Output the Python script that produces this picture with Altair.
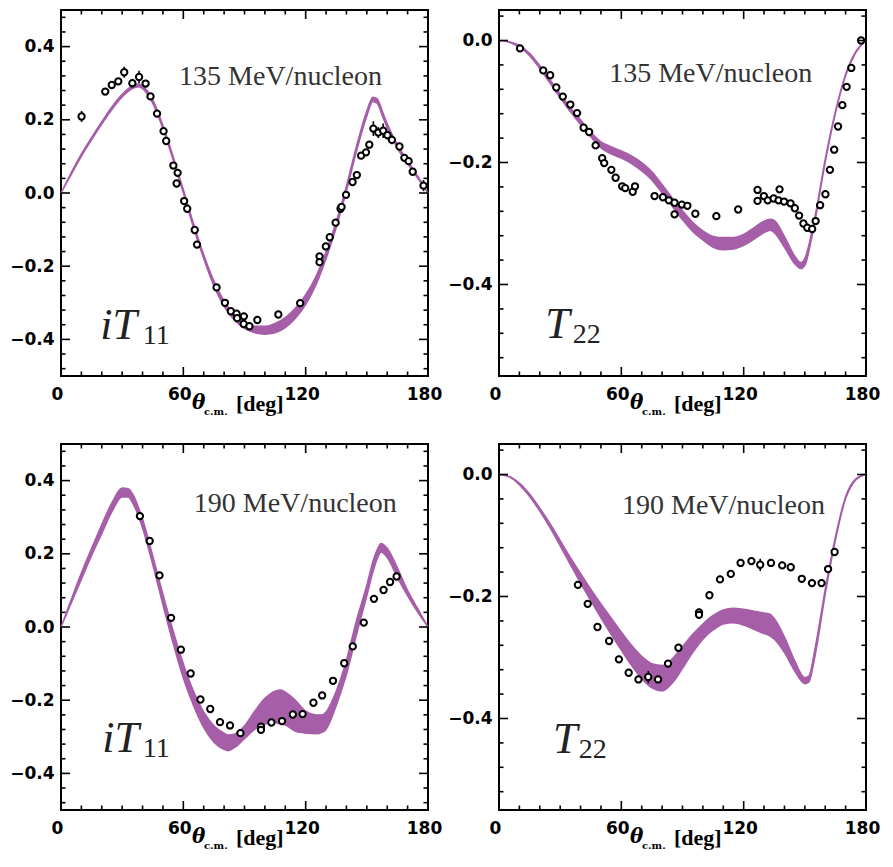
import altair as alt
import pandas as pd

# ---------------- axis ticks ----------------
X_MAJOR = [0, 60, 120, 180]
X_MINOR = [10, 20, 30, 40, 50, 70, 80, 90, 100, 110, 130, 140, 150, 160, 170]
IT_MAJOR = [-0.4, -0.2, 0.0, 0.2, 0.4]
IT_MINOR = [-0.48, -0.44, -0.36, -0.32, -0.28, -0.24, -0.16, -0.12, -0.08, -0.04,
            0.04, 0.08, 0.12, 0.16, 0.24, 0.28, 0.32, 0.36, 0.44, 0.48]
T_MAJOR = [-0.4, -0.2, 0.0]
T_MINOR = [-0.52, -0.48, -0.44, -0.36, -0.32, -0.28, -0.24, -0.16, -0.12, -0.08, -0.04, 0.04]

# ---------------- panel 1 : iT11, 135 MeV/nucleon ----------------
B1_DEG = [0, 5, 10, 15, 20, 25, 30, 35, 38, 40, 45, 50, 55, 60, 65, 70, 75, 80, 85, 90,
          95, 100, 105, 110, 115, 120, 125, 130, 135, 140, 145, 150, 153, 155, 158, 160, 165, 170, 175, 180]
B1_LO = [0, 0.050, 0.100, 0.145, 0.188, 0.228, 0.262, 0.285, 0.290, 0.285,
         0.245, 0.175, 0.090, 0.000, -0.095, -0.180, -0.255, -0.310, -0.347, -0.370,
         -0.382, -0.386, -0.382, -0.368, -0.342, -0.305, -0.252, -0.180, -0.095, 0.005,
         0.115, 0.210, 0.250, 0.245, 0.205, 0.178, 0.122, 0.080, 0.040, 0]
B1_HI = [0, 0.056, 0.107, 0.152, 0.195, 0.236, 0.270, 0.293, 0.298, 0.293,
         0.255, 0.185, 0.100, 0.010, -0.083, -0.168, -0.240, -0.295, -0.332, -0.354,
         -0.364, -0.364, -0.356, -0.340, -0.314, -0.278, -0.228, -0.160, -0.078, 0.020,
         0.130, 0.225, 0.262, 0.258, 0.218, 0.190, 0.132, 0.088, 0.046, 0]
P1_DEG = [10.1, 21.7, 24.9, 28.1, 31.0, 35.0, 38.3, 41.5, 43.9, 47.1, 50.3, 51.6, 55.1, 56.7,
          57.2, 60.4, 61.9, 65.6, 66.7, 76.3, 80.4, 83.3, 86.1, 86.4, 89.7, 89.6, 92.4, 96.3,
          106.6, 117.3, 126.8, 126.8, 129.9, 131.8, 134.7, 137.1, 137.6, 139.8, 143.0, 145.1,
          147.2, 149.6, 151.2, 153.2, 155.6, 158.0, 160.1, 162.3, 166.0, 168.4, 170.5, 172.5, 177.8]
P1_VAL = [0.209, 0.277, 0.295, 0.305, 0.330, 0.300, 0.317, 0.299, 0.264, 0.217, 0.169, 0.142,
          0.075, 0.026, 0.055, -0.022, -0.043, -0.101, -0.141, -0.258, -0.300, -0.323, -0.330,
          -0.342, -0.337, -0.358, -0.364, -0.347, -0.332, -0.301, -0.173, -0.189, -0.146, -0.121,
          -0.081, -0.043, -0.038, -0.005, 0.030, 0.049, 0.102, 0.111, 0.132, 0.176, 0.165, 0.170,
          0.158, 0.145, 0.127, 0.096, 0.087, 0.058, 0.020]
P1_ERR = [0.015, 0.008, 0.008, 0.008, 0.015, 0.012, 0.017, 0.010, 0.008, 0.008, 0.008, 0.008,
          0.008, 0.008, 0.008, 0.008, 0.008, 0.008, 0.008, 0.008, 0.008, 0.008, 0.008, 0.008,
          0.008, 0.008, 0.008, 0.008, 0.008, 0.008, 0.008, 0.008, 0.008, 0.008, 0.008, 0.010,
          0.010, 0.008, 0.008, 0.010, 0.008, 0.008, 0.010, 0.020, 0.015, 0.020, 0.012, 0.012,
          0.010, 0.008, 0.008, 0.008, 0.015]

# ---------------- panel 2 : T22, 135 MeV/nucleon ----------------
B2_DEG = [0, 5, 10, 15, 20, 25, 30, 35, 40, 45, 50, 55, 60, 65, 70, 75, 80, 85, 90, 95,
          100, 105, 110, 115, 120, 125, 130, 133, 135, 140, 145, 148, 150, 153, 155, 160, 165, 170, 175, 180]
B2_LO = [0, -0.003, -0.011, -0.025, -0.046, -0.070, -0.094, -0.117, -0.138, -0.158,
         -0.176, -0.186, -0.193, -0.202, -0.214, -0.229, -0.250, -0.272, -0.294, -0.313,
         -0.327, -0.339, -0.343, -0.342, -0.336, -0.326, -0.315, -0.311, -0.315, -0.339,
         -0.366, -0.374, -0.369, -0.330, -0.296, -0.200, -0.120, -0.058, -0.020, 0]
B2_HI = [0, -0.002, -0.008, -0.021, -0.041, -0.064, -0.087, -0.110, -0.130, -0.150,
         -0.166, -0.174, -0.181, -0.189, -0.200, -0.215, -0.236, -0.258, -0.279, -0.298,
         -0.312, -0.321, -0.323, -0.323, -0.318, -0.307, -0.296, -0.293, -0.295, -0.321,
         -0.353, -0.364, -0.357, -0.320, -0.288, -0.194, -0.116, -0.055, -0.018, 0]
P2_DEG = [10.3, 21.7, 25.1, 28.1, 31.3, 35.0, 38.3, 41.5, 44.2, 47.4, 50.6, 51.6, 55.1, 57.2,
          60.4, 61.9, 65.6, 66.7, 76.3, 80.4, 83.3, 86.1, 86.1, 89.7, 92.4, 96.3, 106.6, 117.3,
          126.8, 126.8, 129.9, 131.8, 134.7, 137.1, 137.6, 139.8, 143.0, 145.1, 147.2, 149.3,
          151.2, 153.6, 155.3, 157.5, 160.1, 162.3, 164.4, 166.3, 168.4, 170.5, 172.8, 177.6]
P2_VAL = [-0.013, -0.049, -0.057, -0.077, -0.092, -0.105, -0.119, -0.143, -0.150, -0.172,
          -0.193, -0.201, -0.212, -0.225, -0.239, -0.242, -0.248, -0.239, -0.255, -0.257,
          -0.262, -0.266, -0.285, -0.269, -0.271, -0.284, -0.288, -0.277, -0.245, -0.263,
          -0.255, -0.262, -0.259, -0.262, -0.244, -0.264, -0.267, -0.275, -0.287, -0.300,
          -0.307, -0.309, -0.296, -0.270, -0.252, -0.212, -0.179, -0.141, -0.106, -0.076,
          -0.045, 0.000]

# ---------------- panel 3 : iT11, 190 MeV/nucleon ----------------
B3_DEG = [0, 5, 10, 15, 20, 25, 30, 33, 35, 40, 45, 50, 55, 60, 65, 70, 75, 80, 82, 85,
          90, 95, 100, 105, 108, 110, 115, 120, 125, 128, 130, 135, 140, 145, 150, 153, 155, 157,
          160, 165, 170, 175, 180]
B3_LO = [0, 0.065, 0.130, 0.195, 0.255, 0.315, 0.355, 0.355, 0.340, 0.270,
         0.170, 0.060, -0.045, -0.140, -0.215, -0.275, -0.315, -0.335, -0.338, -0.330,
         -0.305, -0.280, -0.265, -0.262, -0.265, -0.268, -0.285, -0.290, -0.292, -0.288,
         -0.280, -0.215, -0.130, -0.020, 0.085, 0.150, 0.185, 0.205, 0.190, 0.135,
         0.085, 0.040, 0]
B3_HI = [0, 0.075, 0.148, 0.215, 0.280, 0.340, 0.380, 0.378, 0.365, 0.295,
         0.195, 0.090, -0.010, -0.100, -0.175, -0.232, -0.270, -0.290, -0.295, -0.293,
         -0.270, -0.230, -0.195, -0.175, -0.172, -0.178, -0.200, -0.230, -0.240, -0.240,
         -0.232, -0.175, -0.090, 0.020, 0.115, 0.180, 0.210, 0.228, 0.215, 0.162,
         0.100, 0.050, 0]
P3_DEG = [38.7, 43.5, 48.3, 54.0, 58.8, 63.6, 68.4, 73.2, 78.0, 82.9, 88.0, 98.1, 98.1, 103.2,
          108.4, 113.7, 118.5, 123.8, 128.1, 133.4, 138.9, 143.1, 148.5, 153.5, 158.2, 161.4, 164.6]
P3_VAL = [0.303, 0.235, 0.141, 0.025, -0.062, -0.127, -0.198, -0.224, -0.260, -0.269, -0.290,
          -0.272, -0.281, -0.261, -0.257, -0.239, -0.238, -0.207, -0.187, -0.147, -0.099, -0.053,
          0.012, 0.077, 0.101, 0.123, 0.138]

# ---------------- panel 4 : T22, 190 MeV/nucleon ----------------
B4_DEG = [0, 5, 10, 15, 20, 25, 30, 35, 40, 45, 50, 55, 60, 65, 70, 75, 80, 85, 90, 95,
          100, 105, 110, 115, 120, 125, 130, 133, 135, 140, 145, 150, 152, 155, 160, 165, 170, 175, 180]
B4_LO = [0, -0.004, -0.017, -0.036, -0.060, -0.087, -0.117, -0.148, -0.178, -0.207,
         -0.235, -0.262, -0.288, -0.313, -0.335, -0.350, -0.355, -0.342, -0.318, -0.292,
         -0.270, -0.255, -0.245, -0.243, -0.247, -0.254, -0.261, -0.265, -0.270, -0.292,
         -0.322, -0.343, -0.340, -0.298, -0.197, -0.108, -0.040, -0.009, 0]
B4_HI = [0, -0.003, -0.014, -0.032, -0.055, -0.080, -0.108, -0.136, -0.162, -0.188,
         -0.212, -0.235, -0.258, -0.280, -0.298, -0.310, -0.313, -0.302, -0.282, -0.262,
         -0.245, -0.231, -0.222, -0.219, -0.221, -0.224, -0.227, -0.229, -0.236, -0.266,
         -0.305, -0.333, -0.330, -0.285, -0.188, -0.102, -0.036, -0.007, 0]
P4_DEG = P3_DEG
P4_VAL = [-0.181, -0.212, -0.250, -0.273, -0.303, -0.325, -0.336, -0.332, -0.336, -0.310,
          -0.284, -0.226, -0.230, -0.198, -0.172, -0.163, -0.145, -0.142, -0.148, -0.145,
          -0.149, -0.152, -0.171, -0.178, -0.178, -0.155, -0.127]
P4_ERR = [0.006, 0.006, 0.006, 0.006, 0.006, 0.006, 0.006, 0.010, 0.006, 0.006, 0.006, 0.006,
          0.006, 0.006, 0.006, 0.006, 0.006, 0.006, 0.010, 0.006, 0.006, 0.006, 0.006, 0.006,
          0.006, 0.006, 0.006]

# ---------------- styling ----------------
W, H = 367, 366
SX, SY = W / 373.0, H / 373.0   # annotation positions were read on a 373 px panel
PURPLE = "#a65ea8"
TICK_W = 1.6
SERIF = "Liberation Serif"


def text_layer(s, x, y, font, size, style="normal", weight="normal", color="#222222"):
    return alt.Chart(pd.DataFrame({"s": [s]})).mark_text(
        font=font, fontSize=size, fontStyle=style, fontWeight=weight, color=color,
        align="left", baseline="alphabetic"
    ).encode(x=alt.value(x), y=alt.value(y), text="s:N")


def make_panel(bdeg, blo, bhi, pdeg, pval, perr, ydom, ymaj, ymin, energy, sym, sub, lay):
    xs = alt.Scale(domain=[0, 180], nice=False, zero=False)
    ys = alt.Scale(domain=ydom, nice=False, zero=False)
    lab = dict(labelFont="DejaVu Sans", labelFontSize=17, labelFontWeight="bold",
               labelColor="black", ticks=False, domain=False, grid=False, title=None,
               labelFlush=False, labelOverlap=False)
    xax = alt.Axis(values=X_MAJOR, labelPadding=10, labelOffset=-4, **lab)
    yax = alt.Axis(values=ymaj, format=".1f", labelPadding=7, **lab)

    def X(f):
        return alt.X(f, scale=xs, axis=xax)

    def Y(f):
        return alt.Y(f, scale=ys, axis=yax)

    band = alt.Chart(pd.DataFrame({"deg": bdeg, "lo": blo, "hi": bhi})).mark_area(
        color=PURPLE, stroke=PURPLE, strokeWidth=1.4, interpolate="monotone", opacity=1
    ).encode(x=X("deg:Q"), y=Y("lo:Q"), y2="hi:Q")
    layers = [band]
    pts = pd.DataFrame({"deg": pdeg, "val": pval})
    if perr is not None:
        pts["elo"] = [v - e for v, e in zip(pval, perr)]
        pts["ehi"] = [v + e for v, e in zip(pval, perr)]
        layers.append(alt.Chart(pts).mark_rule(color="black", strokeWidth=1.6).encode(
            x=X("deg:Q"), y=Y("elo:Q"), y2="ehi:Q"))
    layers.append(alt.Chart(pts).mark_circle(
        size=40, fill="white", stroke="black", strokeWidth=2, opacity=1
    ).encode(x=X("deg:Q"), y=Y("val:Q")))

    # inner ticks on all four sides
    for vals, ln in ((X_MAJOR, 9), (X_MINOR, 4.5)):
        base = alt.Chart(pd.DataFrame({"t": vals})).mark_rule(color="black", strokeWidth=TICK_W)
        layers.append(base.encode(x=X("t:Q"), y=alt.value(H), y2=alt.value(H - ln)))
        layers.append(base.encode(x=X("t:Q"), y=alt.value(0), y2=alt.value(ln)))
    for vals, ln in ((ymaj, 9), (ymin, 4.5)):
        base = alt.Chart(pd.DataFrame({"t": vals})).mark_rule(color="black", strokeWidth=TICK_W)
        layers.append(base.encode(y=Y("t:Q"), x=alt.value(0), x2=alt.value(ln)))
        layers.append(base.encode(y=Y("t:Q"), x=alt.value(W), x2=alt.value(W - ln)))

    # annotations
    layers.append(text_layer(energy, lay["ex"] * SX, lay["ey"] * SY, SERIF, 28, color="#333333"))
    layers.append(text_layer(sym, lay["sx"] * SX, lay["sy"] * SY, SERIF, 44, style="italic", color="#222222"))
    layers.append(text_layer(sub, lay["bx"] * SX, lay["sy"] * SY + 5, SERIF, 28, color="#222222"))
    # x-axis title: theta_c.m. [deg]
    layers.append(text_layer("θ", 131, H + 33, "DejaVu Serif", 20, style="italic", weight="bold", color="black"))
    layers.append(text_layer("c.m.", 143, H + 39, "DejaVu Serif", 10, weight="bold", color="black"))
    layers.append(text_layer("[deg]", 175, H + 35, SERIF, 22, weight="bold", color="black"))

    return alt.layer(*layers).properties(width=W, height=H)


p1 = make_panel(B1_DEG, B1_LO, B1_HI, P1_DEG, P1_VAL, P1_ERR, [-0.5, 0.5], IT_MAJOR, IT_MINOR,
                "135 MeV/nucleon", "iT", "11", dict(ex=120, ey=76, sx=40, sy=335, bx=83))
p2 = make_panel(B2_DEG, B2_LO, B2_HI, P2_DEG, P2_VAL, None, [-0.55, 0.05], T_MAJOR, T_MINOR,
                "135 MeV/nucleon", "T", "22", dict(ex=112, ey=73, sx=47, sy=334, bx=75))
p3 = make_panel(B3_DEG, B3_LO, B3_HI, P3_DEG, P3_VAL, None, [-0.5, 0.5], IT_MAJOR, IT_MINOR,
                "190 MeV/nucleon", "iT", "11", dict(ex=135, ey=69, sx=42, sy=314, bx=83))
p4 = make_panel(B4_DEG, B4_LO, B4_HI, P4_DEG, P4_VAL, P4_ERR, [-0.55, 0.05], T_MAJOR, T_MINOR,
                "190 MeV/nucleon", "T", "22", dict(ex=125, ey=71, sx=55, sy=315, bx=81))

chart = alt.concat(
    p1, p2, p3, p4, columns=2, spacing={"row": 68, "column": 71}, bounds="flush"
).configure_view(
    stroke="black", strokeWidth=2
).properties(
    padding={"left": 0, "top": 0, "right": 0, "bottom": 0},
    background="white",
)

chart.save("out.html", embed_options={"renderer": "svg", "actions": False})
